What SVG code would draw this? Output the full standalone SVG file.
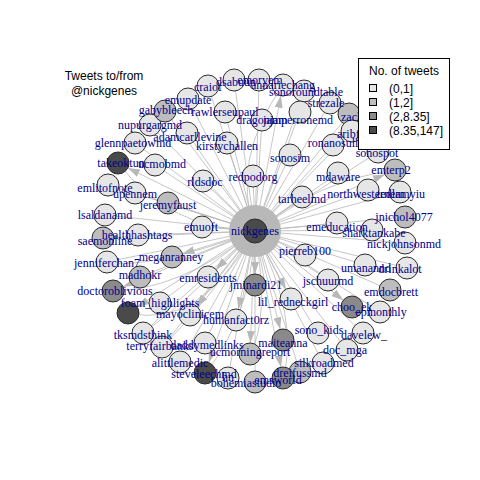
<svg xmlns="http://www.w3.org/2000/svg" width="480" height="480" viewBox="0 0 480 480">
<defs>
<style>
.e{stroke:#b8b8b8;stroke-width:0.8;fill:none}
.ea{stroke:#b8b8b8;stroke-width:0.8;fill:none;marker-end:url(#ah)}
.n circle{stroke:#2b2b2b;stroke-width:1}
.c1{fill:#e6e6e6}.c2{fill:#bdbdbd}.c3{fill:#8a8a8a}.c4{fill:#4a4a4a}
.lb text{font-family:"Liberation Serif","Times New Roman",serif;font-size:12px;fill:#00008b;text-anchor:middle}
.lg{font-family:"Liberation Sans",Arial,sans-serif;font-size:12px;fill:#000}
</style>
<marker id="ah" viewBox="0 0 12 8" refX="12" refY="4" markerWidth="12" markerHeight="8" markerUnits="userSpaceOnUse" orient="auto">
<path d="M0,0 L12,4 L0,8 z" fill="#b8b8b8"/>
</marker>
</defs>
<rect width="480" height="480" fill="#fff"/>
<g id="connectors">
<line class="e" x1="255" y1="231" x2="155" y2="165"/>
<line class="e" x1="255" y1="231" x2="135" y2="143"/>
<line class="e" x1="255" y1="231" x2="150" y2="125"/>
<line class="e" x1="255" y1="231" x2="165" y2="111"/>
<line class="e" x1="255" y1="231" x2="188" y2="99"/>
<line class="e" x1="255" y1="231" x2="208" y2="86"/>
<line class="e" x1="255" y1="231" x2="234" y2="80"/>
<line class="e" x1="255" y1="231" x2="259" y2="80"/>
<line class="e" x1="255" y1="231" x2="304" y2="91"/>
<line class="e" x1="255" y1="231" x2="330" y2="103"/>
<line class="e" x1="255" y1="231" x2="349" y2="114"/>
<line class="e" x1="255" y1="231" x2="352" y2="131"/>
<line class="e" x1="255" y1="231" x2="333" y2="145"/>
<line class="e" x1="255" y1="231" x2="378" y2="152"/>
<line class="e" x1="255" y1="231" x2="338" y2="173"/>
<line class="e" x1="255" y1="231" x2="368" y2="190"/>
<line class="e" x1="255" y1="231" x2="400" y2="192"/>
<line class="e" x1="255" y1="231" x2="405" y2="217"/>
<line class="e" x1="255" y1="231" x2="302" y2="197"/>
<line class="e" x1="255" y1="231" x2="337" y2="223"/>
<line class="e" x1="255" y1="231" x2="372" y2="230"/>
<line class="e" x1="255" y1="231" x2="405" y2="243"/>
<line class="e" x1="255" y1="231" x2="305" y2="255"/>
<line class="e" x1="255" y1="231" x2="365" y2="265"/>
<line class="e" x1="255" y1="231" x2="407" y2="268"/>
<line class="e" x1="255" y1="231" x2="328" y2="280"/>
<line class="e" x1="255" y1="231" x2="390" y2="290"/>
<line class="e" x1="255" y1="231" x2="380" y2="312"/>
<line class="e" x1="255" y1="231" x2="318" y2="333"/>
<line class="e" x1="255" y1="231" x2="363" y2="333"/>
<line class="e" x1="255" y1="231" x2="347" y2="350"/>
<line class="e" x1="255" y1="231" x2="323" y2="363"/>
<line class="e" x1="255" y1="231" x2="300" y2="372"/>
<line class="e" x1="255" y1="231" x2="255" y2="382"/>
<line class="e" x1="255" y1="231" x2="228" y2="378"/>
<line class="e" x1="255" y1="231" x2="180" y2="362"/>
<line class="e" x1="255" y1="231" x2="205" y2="343"/>
<line class="e" x1="255" y1="231" x2="162" y2="347"/>
<line class="e" x1="255" y1="231" x2="143" y2="333"/>
<line class="e" x1="255" y1="231" x2="160" y2="303"/>
<line class="e" x1="255" y1="231" x2="140" y2="277"/>
<line class="e" x1="255" y1="231" x2="107" y2="262"/>
<line class="e" x1="255" y1="231" x2="103" y2="238"/>
<line class="e" x1="255" y1="231" x2="138" y2="235"/>
<line class="e" x1="255" y1="231" x2="105" y2="215"/>
<line class="e" x1="255" y1="231" x2="202" y2="227"/>
<line class="e" x1="255" y1="231" x2="168" y2="203"/>
<line class="e" x1="255" y1="231" x2="135" y2="193"/>
<line class="e" x1="255" y1="231" x2="108" y2="185"/>
<line class="e" x1="255" y1="231" x2="203" y2="181"/>
<line class="e" x1="255" y1="231" x2="253" y2="176"/>
<line class="e" x1="255" y1="231" x2="187" y2="133"/>
<line class="e" x1="255" y1="231" x2="227" y2="143"/>
<line class="e" x1="255" y1="231" x2="225" y2="112"/>
<line class="e" x1="255" y1="231" x2="262" y2="120"/>
<line class="e" x1="255" y1="231" x2="300" y2="112"/>
<line class="e" x1="255" y1="231" x2="290" y2="155"/>
<path class="e" d="M255,231 Q170,230 118,163"/>
<path class="e" d="M255,231 Q180,290 113,291"/>
<path class="e" d="M255,231 Q150,270 107,262"/>
<path class="e" d="M255,231 Q200,330 128,313"/>
<path class="e" d="M255,231 Q250,320 205,373"/>
<path class="e" d="M255,231 Q300,320 283,378"/>
<path class="e" d="M255,231 Q320,180 395,170"/>
<path class="e" d="M255,231 Q230,160 283,85"/>
<path class="e" d="M255,231 Q190,300 143,333"/>
<path class="e" d="M255,231 Q270,320 250,354"/>
<path class="e" d="M255,231 Q210,300 162,347"/>
<line class="ea" x1="255" y1="231" x2="127.9" y2="167.9"/>
<line class="ea" x1="255" y1="231" x2="280.9" y2="95.8"/>
<line class="ea" x1="255" y1="231" x2="384.9" y2="174.4"/>
<line class="ea" x1="255" y1="231" x2="123.1" y2="286.7"/>
<line class="ea" x1="255" y1="231" x2="280.3" y2="329.3"/>
<line class="ea" x1="255" y1="231" x2="250.4" y2="343"/>
<line class="ea" x1="255" y1="231" x2="255" y2="274"/>
<line class="ea" x1="255" y1="231" x2="208.7" y2="362.6"/>
<line class="ea" x1="255" y1="231" x2="137.2" y2="307"/>
<line class="ea" x1="255" y1="231" x2="182.5" y2="253.7"/>
<line class="ea" x1="255" y1="231" x2="215.9" y2="269.3"/>
<line class="ea" x1="255" y1="231" x2="238.3" y2="309.2"/>
<line class="ea" x1="255" y1="231" x2="281" y2="367.2"/>
<line class="ea" x1="255" y1="231" x2="343.3" y2="300.2"/>
<line class="ea" x1="255" y1="231" x2="196.7" y2="306.3"/>
<line class="ea" x1="255" y1="231" x2="285.9" y2="289.3"/>
<circle cx="255" cy="231" r="26" fill="#b8b8b8"/>
</g>
<g id="nodes" class="n">
<g id="n_ucmobmd"><circle class="c1" cx="155" cy="165" r="11"/></g>
<g id="n_glennpaetowmd"><circle class="c1" cx="135" cy="143" r="11"/></g>
<g id="n_nupurgargmd"><circle class="c1" cx="150" cy="125" r="11"/></g>
<g id="n_gabybleech"><circle class="c2" cx="165" cy="111" r="11"/></g>
<g id="n_emupdate"><circle class="c1" cx="188" cy="99" r="11"/></g>
<g id="n_craiof"><circle class="c1" cx="208" cy="86" r="11"/></g>
<g id="n_dsabu"><circle class="c1" cx="234" cy="80" r="11"/></g>
<g id="n_emoryem"><circle class="c1" cx="259" cy="80" r="11"/></g>
<g id="n_annariechang"><circle class="c1" cx="283" cy="85" r="11"/></g>
<g id="n_sonoroundtable"><circle class="c1" cx="304" cy="91" r="11"/></g>
<g id="n_strezale"><circle class="c1" cx="330" cy="103" r="11"/></g>
<g id="n_zachjar"><circle class="c2" cx="349" cy="114" r="11"/></g>
<g id="n_aribf"><circle class="c1" cx="352" cy="131" r="11"/></g>
<g id="n_rawlerseupaul"><circle class="c1" cx="225" cy="112" r="11"/></g>
<g id="n_dragon"><circle class="c1" cx="262" cy="120" r="11"/></g>
<g id="n_jamperronemd"><circle class="c1" cx="300" cy="112" r="11"/></g>
<g id="n_ronanosull"><circle class="c1" cx="333" cy="145" r="11"/></g>
<g id="n_sonospot"><circle class="c1" cx="378" cy="152" r="11"/></g>
<g id="n_sonosim"><circle class="c1" cx="290" cy="155" r="11"/></g>
<g id="n_emterp2"><circle class="c2" cx="395" cy="170" r="11"/></g>
<g id="n_mdaware"><circle class="c1" cx="338" cy="173" r="11"/></g>
<g id="n_northwesternem"><circle class="c1" cx="368" cy="190" r="11"/></g>
<g id="n_myiu"><circle class="c1" cx="400" cy="192" r="11"/></g>
<g id="n_jnichol4077"><circle class="c2" cx="405" cy="217" r="11"/></g>
<g id="n_tarheelmd"><circle class="c1" cx="302" cy="197" r="11"/></g>
<g id="n_emeducation"><circle class="c1" cx="337" cy="223" r="11"/></g>
<g id="n_sharktankabe"><circle class="c1" cx="372" cy="230" r="11"/></g>
<g id="n_nickjohnsonmd"><circle class="c1" cx="405" cy="243" r="11"/></g>
<g id="n_pierreb100"><circle class="c1" cx="305" cy="255" r="11"/></g>
<g id="n_umanannd"><circle class="c1" cx="365" cy="265" r="11"/></g>
<g id="n_drinkalot"><circle class="c1" cx="407" cy="268" r="11"/></g>
<g id="n_jschuurmd"><circle class="c1" cx="328" cy="280" r="11"/></g>
<g id="n_emdocbrett"><circle class="c2" cx="390" cy="290" r="11"/></g>
<g id="n_lil_redneckgirl"><circle class="c1" cx="291" cy="299" r="11"/></g>
<g id="n_choo_ek"><circle class="c3" cx="352" cy="307" r="11"/></g>
<g id="n_epmonthly"><circle class="c1" cx="380" cy="312" r="11"/></g>
<g id="n_sono_kids"><circle class="c1" cx="318" cy="333" r="11"/></g>
<g id="n_davelew_"><circle class="c1" cx="363" cy="333" r="11"/></g>
<g id="n_doc_mga"><circle class="c1" cx="347" cy="350" r="11"/></g>
<g id="n_silkroadmed"><circle class="c1" cx="323" cy="363" r="11"/></g>
<g id="n_dreifussmd"><circle class="c2" cx="300" cy="372" r="11"/></g>
<g id="n_emsworld"><circle class="c3" cx="283" cy="378" r="11"/></g>
<g id="n_bohemia"><circle class="c2" cx="255" cy="382" r="11"/></g>
<g id="n_hn"><circle class="c1" cx="228" cy="378" r="11"/></g>
<g id="n_steveleech"><circle class="c4" cx="205" cy="373" r="11"/></g>
<g id="n_alittlemedic"><circle class="c1" cx="180" cy="362" r="11"/></g>
<g id="n_ucmorningreport"><circle class="c2" cx="250" cy="354" r="11"/></g>
<g id="n_maiteanna"><circle class="c3" cx="283" cy="340" r="11"/></g>
<g id="n_medlinks"><circle class="c1" cx="205" cy="343" r="11"/></g>
<g id="n_terryfairbanks"><circle class="c1" cx="162" cy="347" r="11"/></g>
<g id="n_tksmdsthink"><circle class="c1" cx="143" cy="333" r="11"/></g>
<g id="n_humanfact0rz"><circle class="c1" cx="236" cy="320" r="11"/></g>
<g id="n_mayoclinicem"><circle class="c1" cx="190" cy="315" r="11"/></g>
<g id="n_dark"><circle class="c4" cx="128" cy="313" r="11"/></g>
<g id="n_foam_highlights"><circle class="c1" cx="160" cy="303" r="11"/></g>
<g id="n_doctoroblivious"><circle class="c3" cx="113" cy="291" r="11"/></g>
<g id="n_madhokr"><circle class="c2" cx="140" cy="277" r="11"/></g>
<g id="n_meganranney"><circle class="c2" cx="172" cy="257" r="11"/></g>
<g id="n_emresidents"><circle class="c1" cx="208" cy="277" r="11"/></g>
<g id="n_jminardi21"><circle class="c3" cx="255" cy="285" r="11"/></g>
<g id="n_jenniferchan7"><circle class="c1" cx="107" cy="262" r="11"/></g>
<g id="n_saemonline"><circle class="c2" cx="103" cy="238" r="11"/></g>
<g id="n_healthhashtags"><circle class="c1" cx="138" cy="235" r="11"/></g>
<g id="n_lsaldanamd"><circle class="c1" cx="105" cy="215" r="11"/></g>
<g id="n_emuoft"><circle class="c1" cx="202" cy="227" r="11"/></g>
<g id="n_jeremyfaust"><circle class="c2" cx="168" cy="203" r="11"/></g>
<g id="n_upennem"><circle class="c1" cx="135" cy="193" r="11"/></g>
<g id="n_emlitofnote"><circle class="c1" cx="108" cy="185" r="11"/></g>
<g id="n_rldsdoc"><circle class="c1" cx="203" cy="181" r="11"/></g>
<g id="n_redpodorg"><circle class="c1" cx="253" cy="176" r="11"/></g>
<g id="n_adamcarllevine"><circle class="c1" cx="187" cy="133" r="11"/></g>
<g id="n_kirstychallen"><circle class="c1" cx="227" cy="143" r="11"/></g>
<g id="n_takeoktun"><circle class="c4" cx="118" cy="163" r="11"/></g>
<g id="n_nickgenes"><circle class="c4" cx="255" cy="231" r="12"/></g>
</g>
<g id="labels" class="lb">
<text x="162" y="168">ucmobmd</text>
<text x="133" y="147">glennpaetowmd</text>
<text x="150" y="129">nupurgargmd</text>
<text x="166" y="114">gabybleech</text>
<text x="188" y="104">emupdate</text>
<text x="208" y="91">craiof</text>
<text x="236" y="86">dsabuun</text>
<text x="260" y="84">emoryem</text>
<text x="283" y="89">annariechang</text>
<text x="306" y="96">sonoroundtable</text>
<text x="326" y="107">strezale</text>
<text x="341" y="121" style="text-anchor:start">zachjar</text>
<text x="337" y="138" style="text-anchor:start">aribf</text>
<text x="225" y="116">rawlerseupaul</text>
<text x="262" y="124">dragonjam</text>
<text x="298" y="124">jamperronemd</text>
<text x="333" y="147">ronanosull</text>
<text x="377" y="157">sonospot</text>
<text x="290" y="162">sonosim</text>
<text x="391" y="174">emterp2</text>
<text x="338" y="181">mdaware</text>
<text x="366" y="198">northwesternem</text>
<text x="401" y="198">tedlamyiu</text>
<text x="404" y="221">jnichol4077</text>
<text x="302" y="203">tarheelmd</text>
<text x="337" y="231">emeducation</text>
<text x="374" y="237">sharktankabe</text>
<text x="404" y="248">nickjohnsonmd</text>
<text x="305" y="255">pierreb100</text>
<text x="366" y="272">umanannd</text>
<text x="400" y="273">drinkalot</text>
<text x="328" y="285">jschuurmd</text>
<text x="391" y="296">emdocbrett</text>
<text x="293" y="306">lil_redneckgirl</text>
<text x="352" y="311">choo_ek</text>
<text x="381" y="316">epmonthly</text>
<text x="319" y="334">sono_kids</text>
<text x="364" y="339">davelew_</text>
<text x="345" y="354">doc_mga</text>
<text x="324" y="367">silkroadmed</text>
<text x="300" y="377">dreifussmd</text>
<text x="278" y="384">emsworld</text>
<text x="246" y="387">bohemiastudio</text>
<text x="228" y="381">hn</text>
<text x="204" y="378">steveleechmd</text>
<text x="180" y="367">alittlemedic</text>
<text x="250" y="356">ucmorningreport</text>
<text x="283" y="347">maiteanna</text>
<text x="207" y="349">daddymedlinks</text>
<text x="160" y="350">terryfairbanks</text>
<text x="143" y="339">tksmdsthink</text>
<text x="236" y="324">humanfact0rz</text>
<text x="190" y="318">mayoclinicem</text>
<text x="160" y="307">foam_highlights</text>
<text x="115" y="295">doctoroblivious</text>
<text x="140" y="279">madhokr</text>
<text x="171" y="261">meganranney</text>
<text x="208" y="282">emresidents</text>
<text x="256" y="289">jminardi21</text>
<text x="107" y="267">jenniferchan7</text>
<text x="105" y="245">saemonline</text>
<text x="137" y="239">healthhashtags</text>
<text x="105" y="219">lsaldanamd</text>
<text x="201" y="231">emuoft</text>
<text x="168" y="209">jeremyfaust</text>
<text x="135" y="198">upennem</text>
<text x="105" y="192">emlitofnote</text>
<text x="205" y="186">rldsdoc</text>
<text x="253" y="181">redpodorg</text>
<text x="190" y="141">adamcarllevine</text>
<text x="227" y="150">kirstychallen</text>
<text x="121" y="167">takeoktun</text>
<text x="255" y="235">nickgenes</text>
</g>
<g id="title">
<text class="lg" x="104" y="80" text-anchor="middle">Tweets to/from</text>
<text class="lg" x="104" y="95" text-anchor="middle">@nickgenes</text>
</g>
<g id="legend">
<rect x="358.5" y="58.5" width="91" height="91" fill="#fff" stroke="#000" stroke-width="1"/>
<text class="lg" x="369" y="75">No. of tweets</text>
<rect x="369.5" y="84.5" width="7" height="7" fill="#e6e6e6" stroke="#000"/>
<rect x="369.5" y="98.5" width="7" height="7" fill="#bdbdbd" stroke="#000"/>
<rect x="369.5" y="112.5" width="7" height="7" fill="#8a8a8a" stroke="#000"/>
<rect x="369.5" y="126.5" width="7" height="7" fill="#4a4a4a" stroke="#000"/>
<text class="lg" x="389" y="93">(0,1]</text>
<text class="lg" x="389" y="107">(1,2]</text>
<text class="lg" x="389" y="121">(2,8.35]</text>
<text class="lg" x="389" y="135">(8.35,147]</text>
</g>
</svg>
